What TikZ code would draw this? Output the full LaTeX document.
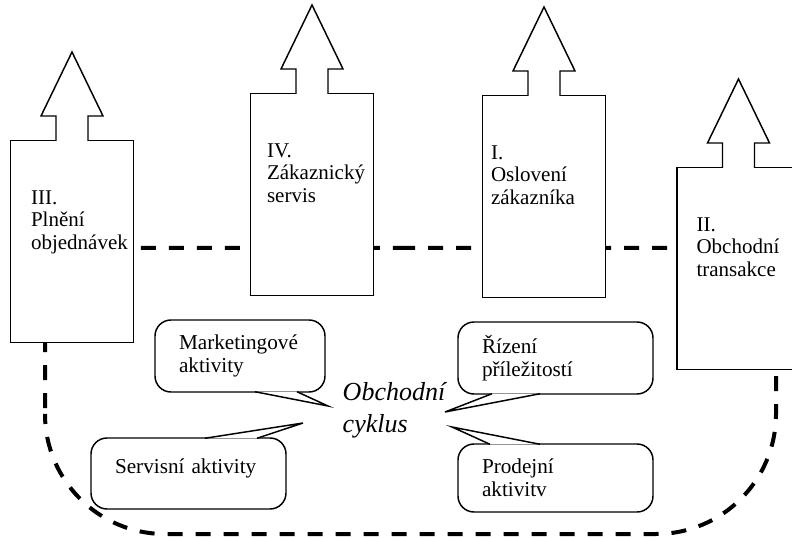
\documentclass[tikz,border=0pt]{standalone}
\usepackage{fontspec}
\setmainfont{Liberation Serif}

\begin{document}
\begin{tikzpicture}[
  x=0.75pt, y=-0.75pt,
  faze/.style={
    rectangle, draw, fill=white, line width=1.1pt,
    minimum width=92.25pt, minimum height=151.5pt, inner sep=0pt
  },
  sipka/.style={draw, fill=white, line width=1.1pt},
  ftxt/.style={
    anchor=north west, inner sep=0pt, align=left,
    font=\fontsize{15.75}{16.9}\selectfont
  },
  bublina/.style={
    rectangle, draw, fill=white, line width=1.1pt, rounded corners=12pt,
    align=left, inner xsep=18pt, inner ysep=0pt,
    font=\fontsize{15.9}{17.25}\selectfont
  },
  jazyk/.style={draw, fill=white, line width=1.1pt, line join=miter},
  cyklus/.style={
    dash pattern=on 11.25pt off 9.75pt, line width=3pt
  }
]

\useasboundingbox (0,0) rectangle (792,538);

% Obchodni cyklus (carkovana smycka)
\draw[cyklus] (400,248) -- (776,248) -- (776,300)
  [rounded corners=90pt] -- (776,534) -- (45,534) -- (45,300)
  [sharp corners] -- (45,248) -- cycle;

% Faze cyklu
\node[faze, anchor=north] (plneni)    at (72,140)    {};
\node[faze, anchor=north] (servis)    at (312,93)    {};
\node[faze, anchor=north] (osloveni)  at (544,95)    {};
\node[faze, anchor=north] (transakce) at (738.5,167) {};

% Sipky nahoru
\foreach \f in {plneni, servis, osloveni, transakce}
  \draw[sipka] ([shift={(-16,1)}]\f.north) -- ++(0,-25) -- ++(-15,0)
    -- ++(31,-64) -- ++(31,64) -- ++(-15,0) -- ++(0,25);

% Popisy fazi
\node[ftxt] (plneni-t)    at ([shift={(21,50)}]plneni.north west)    {III.\\Plnění\\objednávek};
\node[ftxt] (servis-t)    at ([shift={(17,50)}]servis.north west)    {IV.\\Zákaznický\\servis};
\node[ftxt] (osloveni-t)  at ([shift={(9,50)}]osloveni.north west)   {I.\\Oslovení\\zákazníka};
\node[ftxt] (transakce-t) at ([shift={(20,50)}]transakce.north west) {II.\\Obchodní\\transakce};

% Stred
\node[font=\fontsize{19.5}{24}\selectfont\itshape, align=left, inner sep=0pt]
  (stred) at (394,410) {Obchodní\\cyklus};

% Aktivity
\node[bublina, text width=91.5pt, minimum height=54pt]  (mkt)    at (240,356)   {Marketingové\\aktivity};
\node[bublina, text width=110.25pt, minimum height=54pt] (rizeni) at (555.5,358) {Řízení\\příležitostí};
\node[bublina, text width=110.25pt, minimum height=53.25pt, text depth=11pt] (servakt) at (188.5,473.5) {Servisní aktivity};
\node[bublina, text width=110.25pt, minimum height=51pt] (prodej) at (555.5,478) {Prodejní\\aktivitv};

\coordinate (mkt-k)     at (328,406);
\coordinate (rizeni-k)  at (445,412);
\coordinate (servakt-k) at (303,423);
\coordinate (prodej-k)  at (452,427);

\draw[jazyk] ([shift={(15,-1)}]mkt.south) -- (mkt-k) -- ([shift={(57,-1)}]mkt.south);
\draw[jazyk] ([shift={(-15.5,-1)}]rizeni.south) -- (rizeni-k) -- ([shift={(-63.5,-1)}]rizeni.south);
\draw[jazyk] ([shift={(16.5,1)}]servakt.north) -- (servakt-k) -- ([shift={(68.5,1)}]servakt.north);
\draw[jazyk] ([shift={(-15.5,1)}]prodej.north) -- (prodej-k) -- ([shift={(-65.5,1)}]prodej.north);

\end{tikzpicture}
\end{document}
